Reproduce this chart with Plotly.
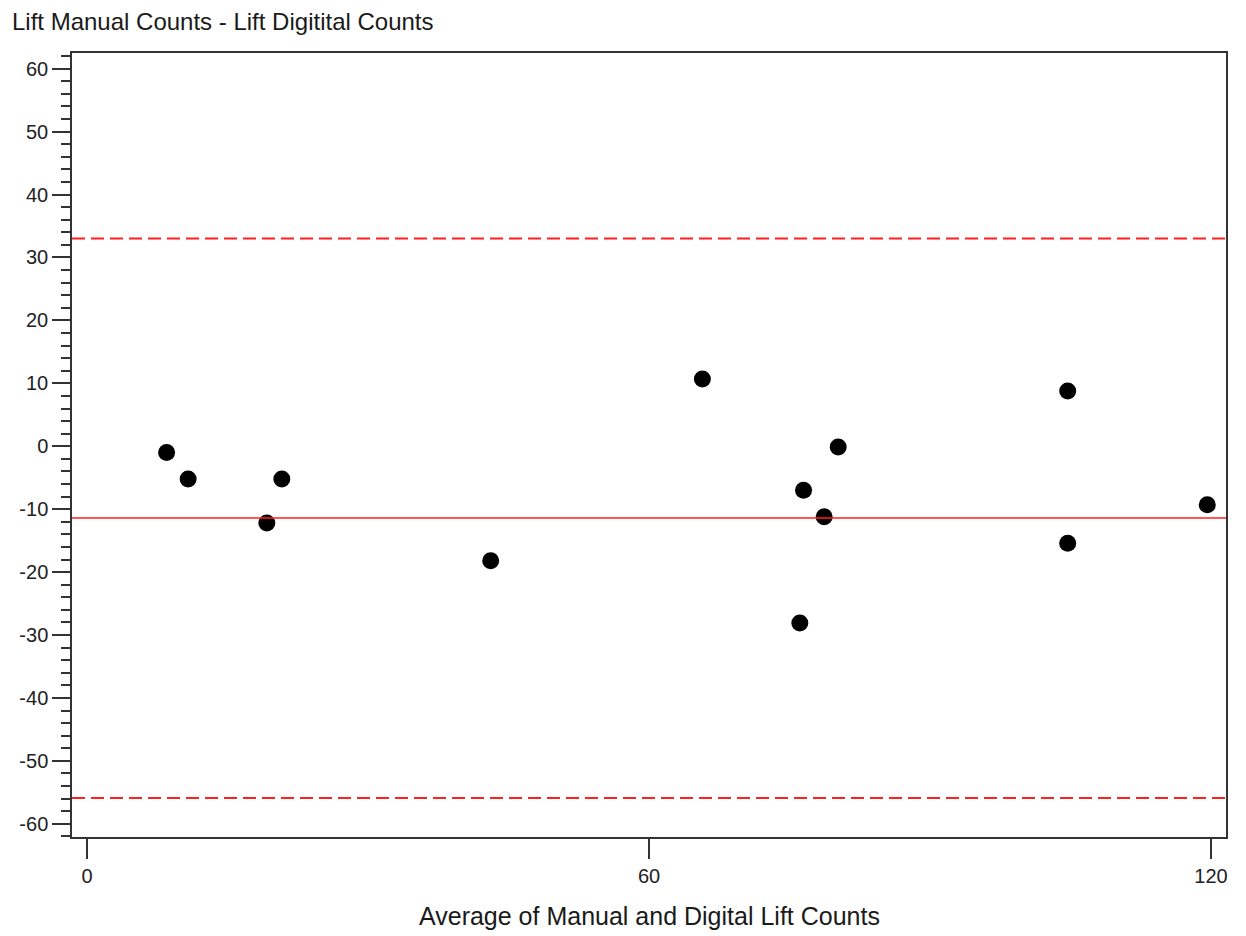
import plotly.graph_objects as go

# Data (Bland-Altman style plot)
avg_counts = [8.5, 10.8, 19.2, 20.8, 43.1, 65.7, 76.1, 76.5, 78.7, 80.2, 104.7, 104.7, 119.6]
diff_counts = [-1.0, -5.2, -12.2, -5.2, -18.2, 10.7, -28.1, -7.0, -11.2, -0.1, 8.8, -15.4, -9.3]

mean_diff = -11.4
upper_loa = 33.0
lower_loa = -55.9

x_ticks = [0, 60, 120]
x_tick_labels = ["0", "60", "120"]
y_ticks = [-60, -50, -40, -30, -20, -10, 0, 10, 20, 30, 40, 50, 60]
y_tick_labels = ["-60", "-50", "-40", "-30", "-20", "-10", "0", "10", "20", "30", "40", "50", "60"]

FONT = "Liberation Sans, Arial, sans-serif"
W, H = 1230, 928
L, R, T, B = 64, 10, 45, 99
plot_h = H - T - B

fig = go.Figure()
fig.add_trace(go.Scatter(
    x=avg_counts, y=diff_counts, mode="markers",
    marker=dict(color="black", size=17),
    showlegend=False, hoverinfo="x+y",
))

for val, dash, w in [(upper_loa, "13px,6px", 2), (lower_loa, "13px,6px", 2), (mean_diff, "solid", 1.6)]:
    fig.add_shape(type="line", xref="paper", x0=0, x1=1, yref="y", y0=val, y1=val,
                  line=dict(color="#ff2020", width=w, dash=dash), layer="above")

fig.update_layout(
    width=W, height=H,
    margin=dict(l=L, r=R, t=T, b=B),
    paper_bgcolor="white", plot_bgcolor="white",
    font=dict(family=FONT, color="#222222"),
    title=dict(text="Lift Manual Counts - Lift Digitital Counts", x=4/W, xref="container",
               xanchor="left", y=1 - 14/H, yref="container", yanchor="middle",
               font=dict(family=FONT, size=24, color="#1a1a1a")),
    annotations=[dict(text="Average of Manual and Digital Lift Counts", xref="paper", x=0.5,
                      yref="paper", y=-79 / plot_h, yanchor="middle", showarrow=False,
                      font=dict(family=FONT, size=25, color="#1a1a1a"))],
)

fig.update_xaxes(
    range=[-1.6, 121.6], tickvals=x_ticks, ticktext=x_tick_labels, ticks="outside", ticklen=20,
    tickwidth=1.5, tickcolor="#333333", showline=True, linecolor="#333333", linewidth=1.5,
    mirror=True, showgrid=False, zeroline=False, tickfont=dict(size=20, color="#222222"),
)
fig.update_yaxes(
    range=[-62.1, 62.5], tickvals=y_ticks, ticktext=y_tick_labels, ticks="outside", ticklen=18,
    tickwidth=1.5, tickcolor="#333333", showline=True, linecolor="#333333", linewidth=1.5,
    mirror=True, showgrid=False, zeroline=False, tickfont=dict(size=20, color="#222222"),
    minor=dict(dtick=2, tick0=0, ticks="outside", ticklen=9, tickwidth=1.5, tickcolor="#333333", showgrid=False),
)

fig.write_html("out.html")
